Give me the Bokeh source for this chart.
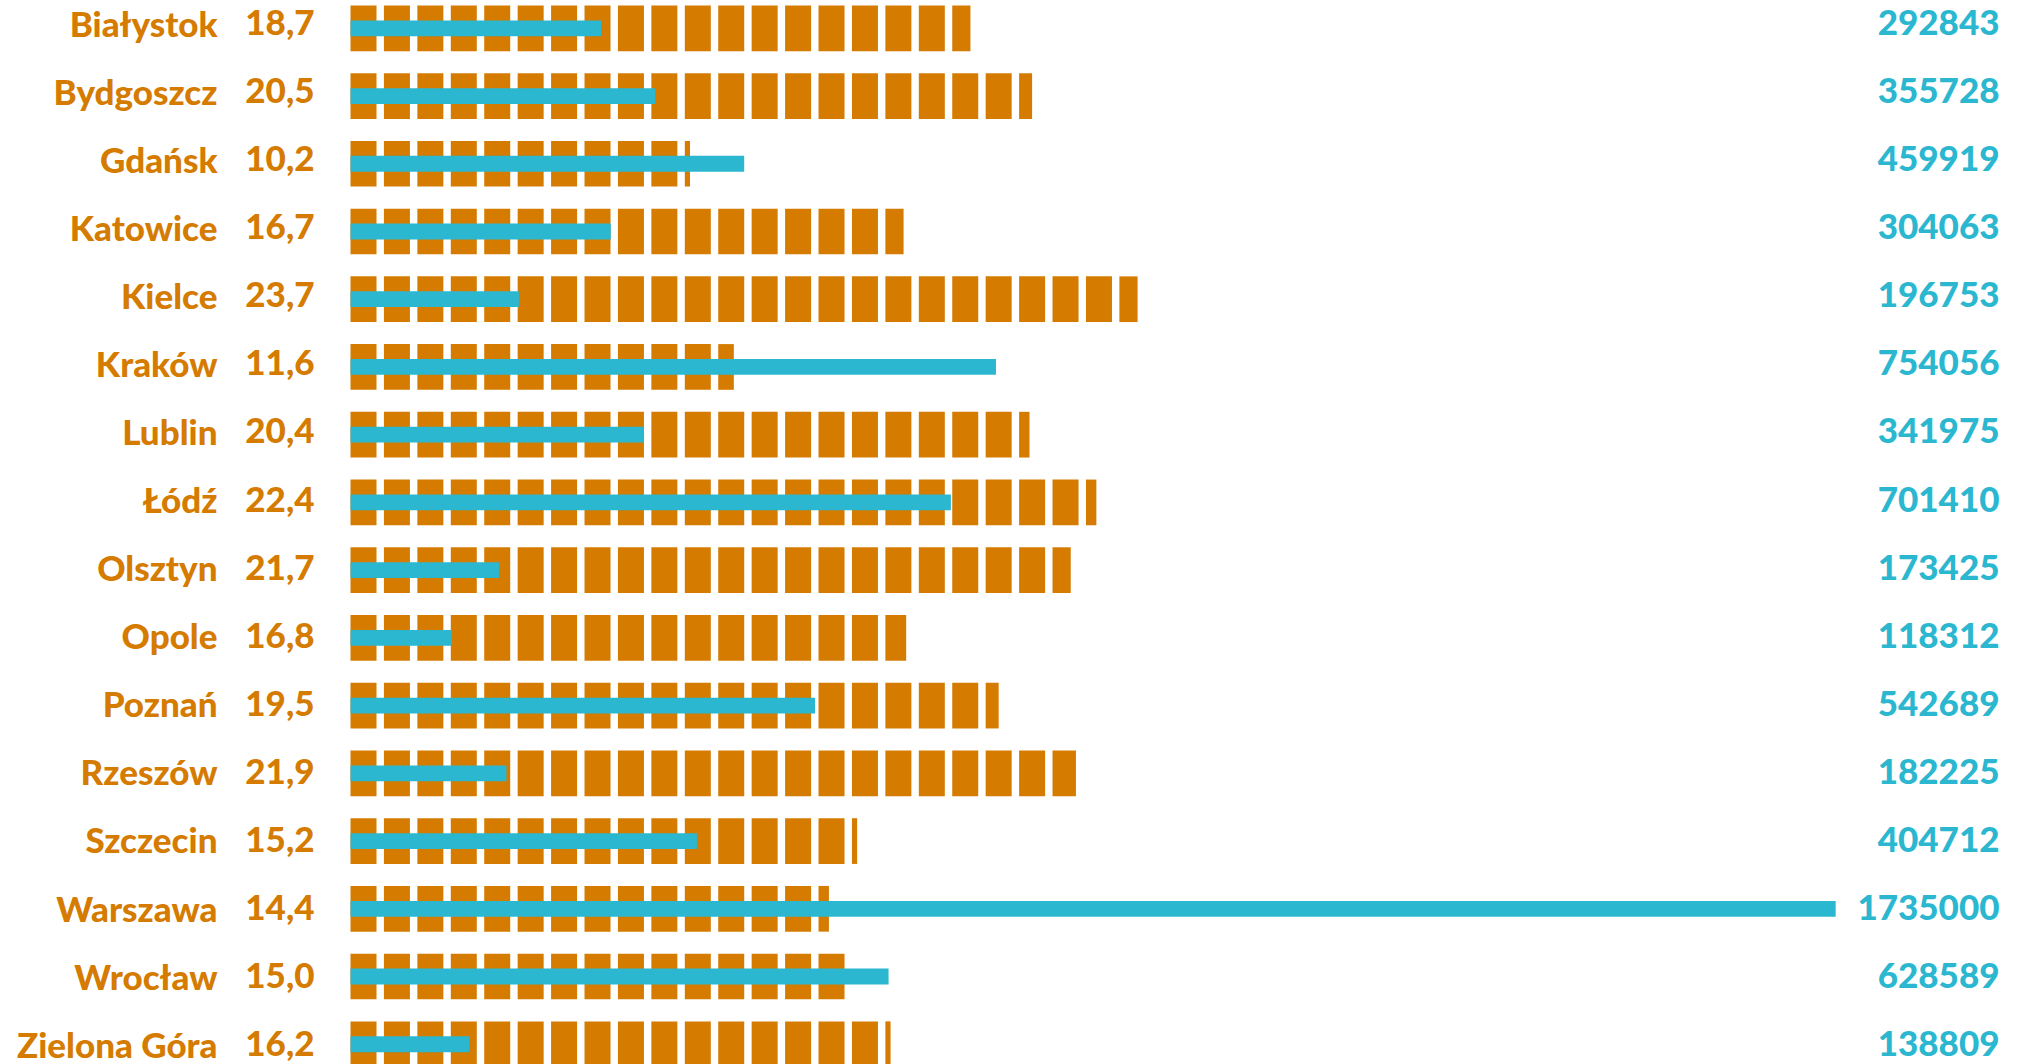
import math
from bokeh.plotting import figure
from bokeh.models import Range1d, ColumnDataSource
from bokeh.core.properties import value
from bokeh.embed import file_html
from bokeh.resources import INLINE

# ---- data ----
cities = ["Białystok", "Bydgoszcz", "Gdańsk", "Katowice", "Kielce", "Kraków", "Lublin", "Łódź",
          "Olsztyn", "Opole", "Poznań", "Rzeszów", "Szczecin", "Warszawa", "Wrocław", "Zielona Góra"]
share = [18.7, 20.5, 10.2, 16.7, 23.7, 11.6, 20.4, 22.4, 21.7, 16.8, 19.5, 21.9, 15.2, 14.4, 15.0, 16.2]
population = [292843, 355728, 459919, 304063, 196753, 754056, 341975, 701410,
              173425, 118312, 542689, 182225, 404712, 1735000, 628589, 138809]
share_labels = ["18,7", "20,5", "10,2", "16,7", "23,7", "11,6", "20,4", "22,4",
                "21,7", "16,8", "19,5", "21,9", "15,2", "14,4", "15,0", "16,2"]

ORANGE = "#D47B00"
BLUE = "#2BB7CF"

W, H = 2024, 1064
X0 = 350.0            # px where bars start
UNIT_PX = 33.43       # px per percent unit
POP_PX = 856.0 / 1e6  # px per inhabitant
ROW_PX = 67.73
TOP0 = 27.8           # px of first row centre

p = figure(width=W, height=H, output_backend="svg", toolbar_location=None,
           min_border=0, outline_line_color=None, background_fill_color="white",
           border_fill_color="white")
p.x_range = Range1d(-X0 / UNIT_PX, (W - X0) / UNIT_PX)
p.extra_x_ranges = {"pop": Range1d(-X0 / POP_PX, (W - X0) / POP_PX)}
p.y_range = Range1d((H - TOP0) / ROW_PX, -TOP0 / ROW_PX)
p.axis.visible = False
p.grid.visible = False

# pictogram blocks (one block per percentage point)
BLOCK = 26.0 / UNIT_PX
BH = 45.7 / ROW_PX
L, R, T, B = [], [], [], []
for i, v in enumerate(share):
    n = math.ceil(v)
    for k in range(n):
        frac = min(1.0, v - k)
        L.append(k)
        R.append(k + BLOCK * frac)
        T.append(i - BH / 2)
        B.append(i + BH / 2)
p.quad(left=L, right=R, top=T, bottom=B, color=ORANGE, line_color=None)

# population bars
rows = list(range(len(cities)))
p.hbar(y=rows, left=0, right=population, height=15.8 / ROW_PX, color=BLUE,
       line_color=None, x_range_name="pop")

# texts
ty = [i + (-5.8 + 0.35 * i) / ROW_PX for i in rows]
src = ColumnDataSource(dict(y=ty, city=cities, lab=share_labels,
                            pop=[str(v) for v in population]))
FS = "35px"
FONT = value("'Lato Black', Lato")
p.text(x=(217 - X0) / UNIT_PX, y="y", text="city", source=src, text_align="right",
       text_baseline="alphabetic", text_font=FONT, text_font_style="bold",
       text_font_size=FS, text_color=ORANGE)
p.text(x=(314 - X0) / UNIT_PX, y="y", text="lab", source=src, text_align="right",
       text_baseline="alphabetic", text_font=FONT, text_font_style="bold",
       text_font_size=FS, text_color=ORANGE)
p.text(x=(1999 - X0) / UNIT_PX, y="y", text="pop", source=src, text_align="right",
       text_baseline="alphabetic", text_font=FONT, text_font_style="bold",
       text_font_size=FS, text_color=BLUE)

open("out.html", "w").write(file_html(p, INLINE))
